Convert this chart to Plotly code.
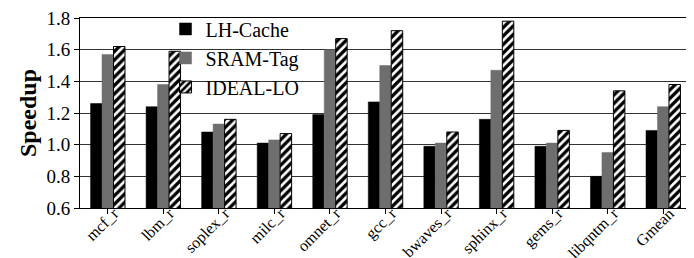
import plotly.graph_objects as go

categories = ["mcf_r", "lbm_r", "soplex_r", "milc_r", "omnet_r", "gcc_r",
              "bwaves_r", "sphinx_r", "gems_r", "libqntm_r", "Gmean"]
lh_cache = [1.26, 1.24, 1.08, 1.01, 1.19, 1.27, 0.99, 1.16, 0.99, 0.80, 1.09]
sram_tag = [1.57, 1.38, 1.13, 1.03, 1.60, 1.50, 1.01, 1.47, 1.01, 0.95, 1.24]
ideal_lo = [1.62, 1.59, 1.16, 1.07, 1.67, 1.72, 1.08, 1.78, 1.09, 1.34, 1.38]
y_ticks = [0.6, 0.8, 1.0, 1.2, 1.4, 1.6, 1.8]

FONT = "Liberation Serif"

fig = go.Figure()
fig.add_trace(go.Bar(x=categories, y=lh_cache, name="LH-Cache",
                     marker=dict(color="black", line=dict(color="black", width=0.5))))
fig.add_trace(go.Bar(x=categories, y=sram_tag, name="SRAM-Tag",
                     marker=dict(color="#6e6e6e", line=dict(color="#6e6e6e", width=0.5))))
fig.add_trace(go.Bar(x=categories, y=ideal_lo, name="IDEAL-LO",
                     marker=dict(color="white", line=dict(color="black", width=1),
                                 pattern=dict(shape="/", fgcolor="black", bgcolor="white",
                                              size=6, solidity=0.55))))

# white legend background panel (sits above gridlines, below bars)
fig.add_shape(type="rect", xref="paper", yref="paper", layer="between",
              x0=0.167, x1=0.38, y0=0.53, y1=0.955,
              fillcolor="white", line=dict(width=0))

fig.update_layout(
    template="none",
    width=694, height=258,
    margin=dict(l=72, r=11, t=10, b=58, autoexpand=False),
    paper_bgcolor="white", plot_bgcolor="white",
    barmode="group", bargap=0.38, bargroupgap=0,
    font=dict(family=FONT, color="black", size=18),
    showlegend=True,
    legend=dict(x=0.14, y=1.045, xanchor="left", yanchor="top",
                bgcolor="rgba(0,0,0,0)", font=dict(family=FONT, size=20, color="black"),
                itemwidth=30, tracegroupgap=0, traceorder="normal", borderwidth=0),
)
fig.update_yaxes(range=[0.6, 1.8], tickvals=y_ticks,
                 ticktext=[f"{v:.1f}" for v in y_ticks],
                 showgrid=True, gridcolor="#333333", gridwidth=1,
                 showline=True, linecolor="black", linewidth=1, mirror=True,
                 ticks="outside", ticklen=5, tickcolor="black",
                 tickfont=dict(size=19, family=FONT), ticklabeloverflow="allow",
                 title=dict(text="<b>Speedup</b>", font=dict(size=24, family=FONT), standoff=3),
                 zeroline=False, automargin=False)
fig.update_xaxes(showline=True, linecolor="black", linewidth=1, mirror=True,
                 ticks="outside", ticklen=5, tickcolor="black", showgrid=False,
                 tickangle=-45, tickfont=dict(size=16, family=FONT), ticklabeloverflow="allow",
                 ticklabelstandoff=-16, ticklabelshift=6, automargin=False)

fig.write_html("out.html")
